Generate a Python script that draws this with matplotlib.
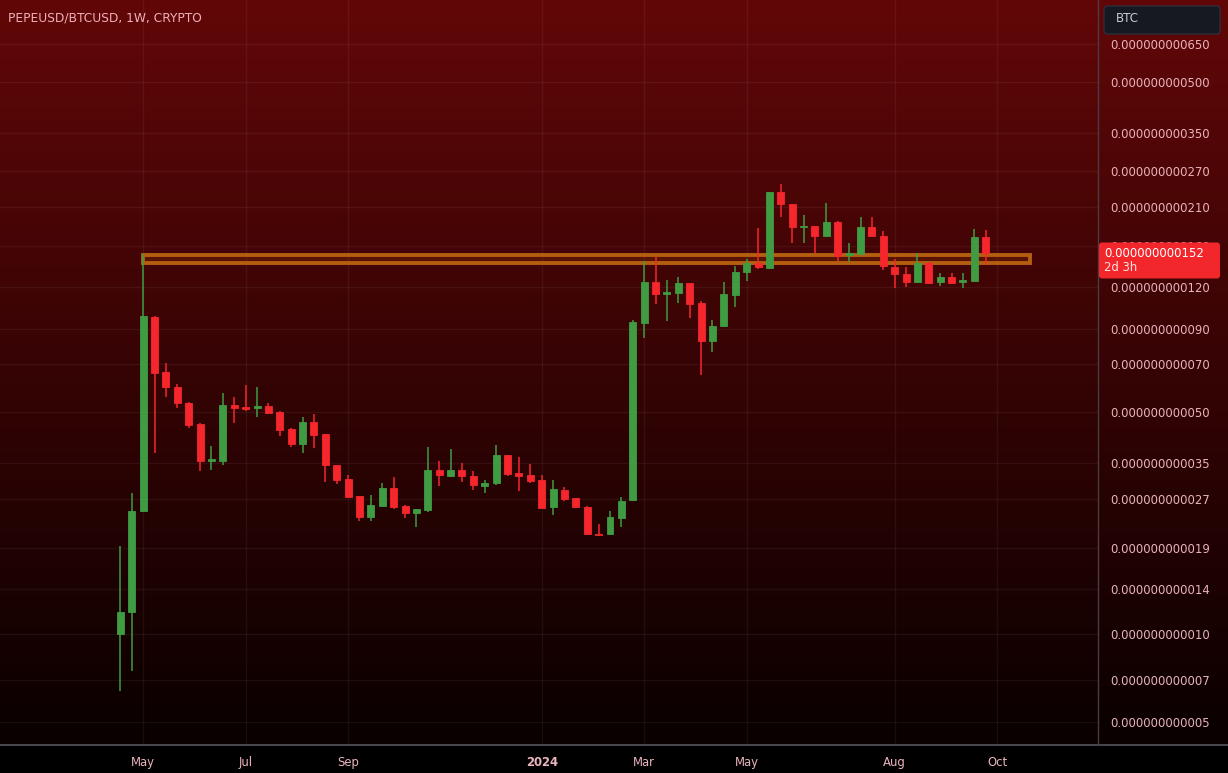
import numpy as np
import pandas as pd
import matplotlib
matplotlib.use("Agg")
import matplotlib.pyplot as plt
import matplotlib.dates as mdates
from matplotlib.patches import Rectangle, FancyBboxPatch
from matplotlib.ticker import FixedLocator, FuncFormatter, NullLocator
from matplotlib.transforms import IdentityTransform
from matplotlib.lines import Line2D

# ---------------- data (prices in units of 1e-12 BTC) ----------------
UNIT = 1e-12
first_week = "2023-04-17"
n_weeks = 77

open_ = [10.0, 11.8, 24.8, 97.3, 66.3, 59.8, 53.4, 45.9, 35.4, 35.4,
         52.8, 51.9, 51.4, 52.3, 50.1, 44.4, 39.9, 46.7, 42.8, 34.3,
         31.1, 27.5, 23.7, 25.7, 29.2, 25.7, 24.4, 24.9, 33.2, 31.9,
         33.2, 31.9, 29.7, 30.2, 36.9, 32.4, 32.0, 30.9, 25.4, 28.8,
         27.1, 25.5, 21.0, 20.9, 23.6, 26.8, 93.5, 124.3, 114.3, 115.6,
         123.4, 107.3, 82.6, 91.4, 113.7, 133.3, 142.5, 137.8, 232.5, 214.4,
         182.2, 183.9, 172.0, 189.5, 150.0, 151.1, 182.2, 172.0, 138.6, 131.4,
         124.3, 142.5, 124.3, 128.7, 124.3, 125.7, 170.8]
high = [19.2, 28.2, 151.4, 98.0, 70.5, 60.9, 53.6, 46.2, 39.4, 57.1,
        55.7, 60.5, 59.8, 53.2, 50.3, 44.6, 48.2, 49.3, 43.0, 34.5,
        32.0, 27.6, 27.7, 30.3, 31.5, 25.8, 25.2, 39.2, 35.4, 38.5,
        34.8, 33.0, 30.9, 39.6, 37.0, 36.5, 34.6, 32.0, 30.9, 29.5,
        27.2, 25.6, 22.6, 24.7, 27.4, 95.5, 144.5, 147.9, 126.3, 128.7,
        124.0, 109.3, 95.5, 124.3, 139.2, 146.2, 181.0, 233.5, 246.0, 215.0,
        198.6, 184.0, 215.4, 190.0, 163.8, 195.4, 195.4, 178.0, 146.0, 138.6,
        152.1, 142.8, 132.3, 132.3, 132.3, 179.7, 178.5]
low = [6.4, 7.5, 24.5, 37.4, 55.7, 51.4, 44.6, 33.0, 33.2, 34.3,
       46.2, 50.5, 48.4, 49.5, 42.3, 39.0, 37.4, 38.7, 30.5, 30.0,
       27.2, 23.1, 23.1, 25.6, 25.1, 23.5, 22.0, 24.6, 29.6, 31.6,
       30.5, 28.8, 28.2, 29.8, 31.8, 28.6, 30.2, 25.2, 24.0, 26.6,
       25.3, 20.8, 20.7, 20.8, 22.1, 26.6, 84.0, 106.8, 94.9, 107.3,
       96.6, 65.0, 76.5, 91.0, 104.8, 125.4, 136.1, 136.1, 196.3, 163.8,
       163.5, 152.1, 171.5, 144.2, 143.5, 150.8, 171.8, 135.4, 119.2, 120.5,
       124.0, 123.2, 121.1, 123.8, 119.2, 125.5, 140.2]
close = [11.8, 24.8, 98.2, 66.0, 59.6, 53.2, 45.7, 35.4, 35.9, 52.8,
         51.6, 51.0, 52.3, 49.8, 44.1, 39.9, 46.7, 42.7, 34.3, 30.9,
         27.3, 23.7, 25.9, 29.2, 25.5, 24.4, 25.1, 33.2, 32.0, 33.2,
         31.9, 29.8, 30.3, 36.9, 32.2, 31.9, 30.7, 25.3, 28.9, 27.0,
         25.4, 20.9, 20.8, 23.7, 26.6, 94.0, 124.3, 114.3, 116.1, 123.4,
         106.6, 82.4, 91.8, 114.5, 133.3, 142.5, 138.0, 232.5, 214.4, 182.2,
         183.9, 172.0, 189.5, 149.6, 152.1, 182.2, 172.0, 139.2, 131.4, 124.3,
         142.5, 123.4, 128.7, 124.0, 126.3, 170.8, 152.0]

y_tick_values = [5, 7, 10, 14, 19, 27, 35, 50, 70, 90, 120, 160, 210, 270, 350, 500, 650]
x_tick_dates = ["2023-05-01", "2023-07-03", "2023-09-04", "2024-01-01",
                "2024-03-04", "2024-05-06", "2024-08-05", "2024-10-07"]
x_tick_labels = ["May", "Jul", "Sep", "2024", "Mar", "May", "Aug", "Oct"]

zone_start, zone_end = "2023-05-01", "2024-10-27"
zone_low, zone_high = 142.6, 150.4

title = "PEPEUSD/BTCUSD, 1W, CRYPTO"
last_price_text = "0.000000000152"
countdown = "2d 3h"
currency = "BTC"

x_start, x_end = "2023-02-02", "2024-12-08"
y_min, y_max = 4.1, 883.0

# ---------------- styling ----------------
W, H = 1228, 773
GREEN = "#3f9c43"
RED = "#f5262c"
LABEL = "#eab4bc"
top_col = np.array([98, 7, 8]) / 255.0
bot_col = np.array([9, 0, 0]) / 255.0

fig = plt.figure(figsize=(W / 100, H / 100), dpi=100)

# background gradient
bg = fig.add_axes([0, 0, 1, 1], zorder=-10)
plot_bottom_px = 745
grad = np.zeros((H, 1, 3))
t = np.clip(np.arange(H) / plot_bottom_px, 0, 1)[:, None]
grad[:, 0, :] = top_col * (1 - t) + bot_col * t
grad[plot_bottom_px:, 0, :] = np.array([0, 0, 0])
bg.imshow(grad, aspect="auto", extent=[0, 1, 0, 1], interpolation="bilinear")
bg.axis("off")

plot_right_px = 1098
ax = fig.add_axes([0, (H - plot_bottom_px) / H, plot_right_px / W, plot_bottom_px / H])
ax.set_facecolor("none")


def fwd(p):
    p = np.asarray(p, dtype=float)
    return np.log(np.maximum(p / UNIT + 1.0, 1e-9))


def inv(v):
    return (np.exp(np.asarray(v, dtype=float)) - 1.0) * UNIT


ax.set_yscale("function", functions=(fwd, inv))

dates = pd.date_range(first_week, periods=n_weeks, freq="7D")
x = mdates.date2num(dates.to_pydatetime())
o = np.array(open_) * UNIT
h = np.array(high) * UNIT
l = np.array(low) * UNIT
c = np.array(close) * UNIT
up = c >= o
cols = np.where(up, GREEN, RED)

# zone rectangle
zx0 = mdates.date2num(pd.Timestamp(zone_start).to_pydatetime())
zx1 = mdates.date2num(pd.Timestamp(zone_end).to_pydatetime())
ax.add_patch(Rectangle((zx0, zone_low * UNIT), zx1 - zx0, (zone_high - zone_low) * UNIT,
                       facecolor=(0.55, 0.22, 0.02, 0.3), edgecolor="#b45e10",
                       linewidth=2.8, zorder=2))

ax.vlines(x, l, h, colors=cols, linewidth=1.1, zorder=3)
ax.bar(x, np.abs(c - o), bottom=np.minimum(o, c), width=4.3, color=cols,
       edgecolor=cols, linewidth=0.6, zorder=4)

ax.set_xlim(mdates.date2num(pd.Timestamp(x_start).to_pydatetime()),
            mdates.date2num(pd.Timestamp(x_end).to_pydatetime()))
ax.set_ylim(y_min * UNIT, y_max * UNIT)

ax.yaxis.tick_right()
ax.yaxis.set_major_locator(FixedLocator(np.array(y_tick_values) * UNIT))
ax.yaxis.set_minor_locator(NullLocator())
ax.yaxis.set_major_formatter(FuncFormatter(lambda v, pos: f"{v:.12f}"))
ax.tick_params(axis="y", length=0, pad=9, labelsize=8.4, labelcolor=LABEL)

xt = [mdates.date2num(pd.Timestamp(d).to_pydatetime()) for d in x_tick_dates]
ax.xaxis.set_major_locator(FixedLocator(xt))
ax.xaxis.set_minor_locator(NullLocator())
ax.set_xticklabels(x_tick_labels)
ax.tick_params(axis="x", length=0, pad=8, labelsize=8.4, labelcolor=LABEL)
for lab in ax.get_xticklabels():
    if lab.get_text() == "2024":
        lab.set_fontweight("bold")

ax.grid(True, color="white", alpha=0.055, linewidth=1.0, zorder=0)
ax.set_axisbelow(True)
for s in ax.spines.values():
    s.set_visible(False)

ident = IdentityTransform()
# separator lines
fig.add_artist(Line2D([0, W], [H - plot_bottom_px, H - plot_bottom_px], transform=ident,
                      color="#4a4a50", linewidth=1.4))
fig.add_artist(Line2D([plot_right_px, plot_right_px], [H - plot_bottom_px, H], transform=ident,
                      color="#4a3c42", linewidth=1.0))

# last price label
y_disp = ax.transData.transform((x[-1], c[-1]))[1]
fig.add_artist(FancyBboxPatch((plot_right_px + 1, y_disp - 25), 121, 36,
                              boxstyle="round,pad=0,rounding_size=3", transform=ident,
                              facecolor="#f2272c", edgecolor="none", zorder=5))
fig.text(1104, y_disp, last_price_text, transform=ident, va="center", ha="left",
         fontsize=8.4, color="white", zorder=6)
fig.text(1104, y_disp - 14, countdown, transform=ident, va="center", ha="left",
         fontsize=8.4, color="#ffe0e0", zorder=6)

# currency button
fig.add_artist(FancyBboxPatch((1104, H - 34), 116, 28,
                              boxstyle="round,pad=0,rounding_size=4", transform=ident,
                              facecolor="#161922", edgecolor="#2c2f3a", linewidth=1.0, zorder=5))
fig.text(1116, H - 19, currency, transform=ident, va="center", ha="left",
         fontsize=8.6, color="#c8cad2", zorder=6)

# title
fig.text(8, H - 18, title, transform=ident, va="center", ha="left",
         fontsize=8.8, color="#f0b0b8")

fig.savefig("out.png", dpi=100)
